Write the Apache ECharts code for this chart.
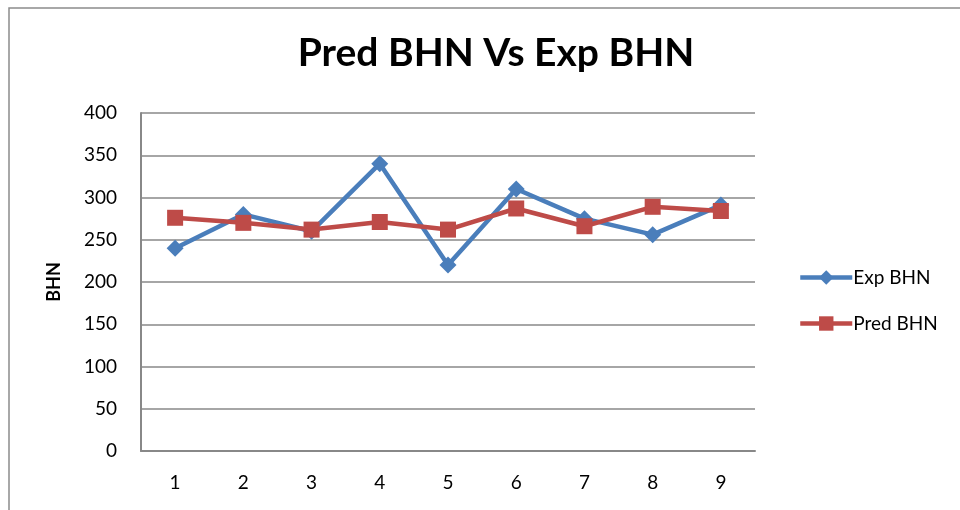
<!DOCTYPE html>
<html><head><meta charset="utf-8">
<script src="https://cdn.jsdelivr.net/npm/echarts@6/dist/echarts.min.js"></script>
<style>html,body{margin:0;padding:0;background:#fff}#c{width:960px;height:510px}</style>
</head><body><div id="c"></div>
<script>
const categories = ['1','2','3','4','5','6','7','8','9'];
const expBHN = [240, 280, 260, 340, 220, 310, 275, 256, 291];
const predBHN = [276, 270, 262, 271, 262, 287, 266, 289, 284];
const yTicks = {min: 0, max: 400, interval: 50};

const chart = echarts.init(document.getElementById('c'), null, {renderer: 'canvas'});
const font = 'Lato, "Open Sans", sans-serif';
chart.setOption({
  animation: false,
  backgroundColor: '#fff',
  title: {
    text: 'Pred BHN Vs Exp BHN', left: 491, top: 29, textAlign: 'center',
    textStyle: {fontFamily: font, fontWeight: 'bold', fontSize: 39, color: '#000'}
  },
  graphic: [{type: 'rect', shape: {x: 9, y: 8, width: 980, height: 520},
    style: {fill: 'none', stroke: '#8c8c8c', lineWidth: 1.5}, silent: true}],
  legend: {
    orient: 'vertical', left: 793, top: 263, itemGap: 27,
    itemWidth: 52, itemHeight: 18,
    lineStyle: {width: 4.5},
    textStyle: {fontFamily: font, fontSize: 19, color: '#000', padding: [0,0,0,-4]},
    data: ['Exp BHN', 'Pred BHN']
  },
  grid: {left: 141, right: 205, top: 113, bottom: 59},
  xAxis: {
    type: 'category', data: categories, boundaryGap: true,
    axisLine: {lineStyle: {color: '#888', width: 2}},
    axisTick: {show: false},
    axisLabel: {fontFamily: font, fontSize: 19, color: '#000', margin: 22}
  },
  yAxis: {
    type: 'value', min: yTicks.min, max: yTicks.max, interval: yTicks.interval,
    name: 'BHN', nameLocation: 'middle', nameGap: 78, nameRotate: 90,
    nameTextStyle: {fontFamily: font, fontWeight: 'bold', fontSize: 18, color: '#000'},
    axisLine: {show: true, lineStyle: {color: '#888', width: 2}},
    axisTick: {show: false},
    splitLine: {lineStyle: {color: '#888', width: 1.5}},
    axisLabel: {fontFamily: font, fontSize: 19, color: '#000', margin: 24}
  },
  series: [
    {name: 'Exp BHN', type: 'line', data: expBHN, symbol: 'diamond', symbolSize: 17,
     lineStyle: {color: '#4A7EBB', width: 4.5}, itemStyle: {color: '#4A7EBB'}},
    {name: 'Pred BHN', type: 'line', data: predBHN, symbol: 'rect', symbolSize: 16,
     lineStyle: {color: '#BE4B48', width: 4.5}, itemStyle: {color: '#BE4B48'}}
  ]
});
</script></body></html>
